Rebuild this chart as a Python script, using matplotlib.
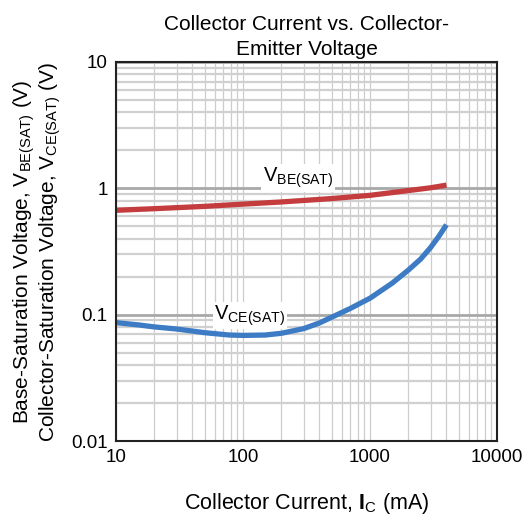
import matplotlib
matplotlib.use("Agg")
import matplotlib.pyplot as plt
import numpy as np

plt.rcParams['font.family'] = ['Liberation Sans', 'DejaVu Sans']
plt.rcParams['mathtext.fontset'] = 'custom'
plt.rcParams['mathtext.rm'] = 'Liberation Sans'
plt.rcParams['mathtext.it'] = 'Liberation Sans:italic'
plt.rcParams['mathtext.bf'] = 'Liberation Sans:bold'

# Data
ic_vbe = [10, 20, 50, 100, 200, 500, 1000, 2000, 3000, 4000]
vbe = [0.67, 0.69, 0.72, 0.75, 0.78, 0.83, 0.88, 0.96, 1.01, 1.06]

ic_vce = [10, 15, 20, 30, 50, 78, 100, 150, 200, 300, 400, 500, 700,
          1000, 1500, 2000, 2500, 3000, 3500, 4000]
vce = [0.0865, 0.083, 0.080, 0.077, 0.072, 0.069, 0.0685, 0.069, 0.0712, 0.0775,
       0.086, 0.0955, 0.112, 0.135, 0.178, 0.225, 0.275, 0.34, 0.42, 0.515]

title = "Collector Current vs. Collector-\nEmitter Voltage"
xlabel = r"Collector Current, $\mathbf{I}_{\mathrm{C}}$ (mA)"
ylabel = ("Base-Saturation Voltage, V$_{\\mathrm{BE(SAT)}}$ (V)\n"
          "Collector-Saturation Voltage, V$_{\\mathrm{CE(SAT)}}$ (V)")
xticks = [10, 100, 1000, 10000]
xtick_labels = ["10", "100", "1000", "10000"]
yticks = [0.01, 0.1, 1, 10]
ytick_labels = ["0.01", "0.1", "1", "10"]

fig = plt.figure(figsize=(5.27, 5.18), dpi=100)
ax = fig.add_axes([116/527, 1 - 441/518, (497-116)/527, (441-62)/518])
ax.set_xscale('log')
ax.set_yscale('log')
ax.set_xlim(10, 10000)
ax.set_ylim(0.01, 10)

ax.xaxis.grid(True, which='both', color='#cdcdcd', linewidth=0.9)
ax.yaxis.grid(True, which='minor', color='#d0d0d0', linewidth=1.6)
ax.yaxis.grid(True, which='major', color='#a8a8a8', linewidth=2.0)
ax.set_axisbelow(True)

ax.plot(ic_vbe, vbe, color='#c43c3e', linewidth=3.8, solid_capstyle='butt')
ax.plot(ic_vce, vce, color='#3d7cc4', linewidth=3.8, solid_capstyle='butt')

ax.text(271, 0.965, r"V$_{\mathrm{BE(SAT)}}$", fontsize=14.5, ha='center', va='bottom',
        bbox=dict(facecolor='white', edgecolor='none', pad=1))
ax.text(113, 0.079, r"V$_{\mathrm{CE(SAT)}}$", fontsize=14.5, ha='center', va='bottom',
        bbox=dict(facecolor='white', edgecolor='none', pad=1))

ax.set_xticks(xticks)
ax.set_xticklabels(xtick_labels)
ax.set_yticks(yticks)
ax.set_yticklabels(ytick_labels)
ax.tick_params(which='both', length=0, labelsize=13.5, pad=6)
for s in ax.spines.values():
    s.set_linewidth(1.5)
    s.set_color('#222222')

ax.set_title(title, fontsize=15, pad=5, linespacing=1.4)
ax.set_xlabel(xlabel, fontsize=15.5, labelpad=18)
ax.set_ylabel(ylabel, fontsize=15, labelpad=6, linespacing=1.0)

fig.savefig("out.png", dpi=100)
